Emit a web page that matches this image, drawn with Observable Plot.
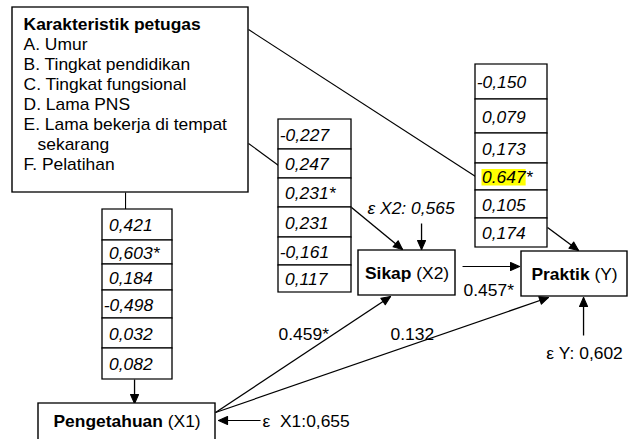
<!DOCTYPE html>
<html>
<head>
<meta charset="utf-8">
<script src="https://cdn.jsdelivr.net/npm/d3@7"></script>
<script src="https://cdn.jsdelivr.net/npm/@observablehq/plot@0.6"></script>
<style>
  html, body { margin: 0; padding: 0; background: #fff; overflow: hidden; }
  #chart svg { display: block; }
</style>
</head>
<body>
<div id="chart"></div>
<script>
// ---------------- data ----------------
const characteristicsTitle = "Karakteristik petugas";
const characteristics = ["A. Umur", "B. Tingkat pendidikan", "C. Tingkat fungsional", "D. Lama PNS", "E. Lama bekerja di tempat", "sekarang", "F. Pelatihan"];
const coefToX1 = ["0,421", "0,603*", "0,184", "-0,498", "0,032", "0,082"];
const coefToX2 = ["-0,227", "0,247", "0,231*", "0,231", "-0,161", "0,117"];
const coefToY  = ["-0,150", "0,079", "0,173", "0.647*", "0,105", "0,174"];
const highlightedCoef = "0.647*";
const nodeIds   = ["X1", "X2", "Y"];
const nodeNames = ["Pengetahuan", "Sikap", "Praktik"];
const nodeCodes = ["(X1)", "(X2)", "(Y)"];
const pathFrom  = ["X1", "X1", "X2"];
const pathTo    = ["X2", "Y", "Y"];
const pathCoef  = ["0.459*", "0.132", "0.457*"];
const errorLabels = ["ε  X1:0,655", "ε X2: 0,565", "ε Y: 0,602"];

// ---------------- layout (picture pixel space) ----------------
const W = 633, H = 439, SX = 1.09, FS = 16;
const FONT = "'Liberation Sans', Arial, Helvetica, sans-serif";
const L = {
  charBox: {x1: 12, x2: 248, y1: 7, y2: 192, textX: 23, titleY: 24, lineStep: 20, indent: 14},
  nodes: {
    X1: {x1: 38, x2: 215, y1: 403, y2: 470, ly: 421},
    X2: {x1: 358, x2: 455, y1: 250, y2: 295, ly: 273},
    Y:  {x1: 521, x2: 627, y1: 251, y2: 296, ly: 274}
  },
  tables: {
    X1: {x: [102, 172], rows: [209, 240, 264, 290, 318, 348, 379]},
    X2: {x: [278, 351], rows: [119, 149, 178, 207, 237, 265, 292]},
    Y:  {x: [475, 547], rows: [64, 99, 133, 163, 190, 218, 247]}
  },
  feeds: {            // characteristic box -> coefficient table (plain lines)
    Y:  [[248, 29], [475, 176]],
    X2: [[248, 143], [278, 165]],
    X1: [[125, 192], [125, 209]]
  },
  tableArrows: {      // coefficient table -> node
    X1: [[134, 379], [134, 403]],
    X2: [[351, 207], [402, 249]],
    Y:  [[547, 227], [578, 250]]
  },
  pathArrows: [[[215, 412], [390, 296]], [[215, 412], [548, 297]], [[462, 266], [519, 266]]],
  pathLabels: [[278, 334, "start"], [390, 334, "start"], [463, 290, "start"]],
  errorArrows: [[[260, 420], [218, 420]], [[421, 223], [421, 249]], [[583, 335], [583, 297]]],
  errorLabels: [[262, 421, "start", false], [367, 208, "start", true], [584, 353, "middle", false]]
};

// ---------------- derived tables ----------------
const boxes = [
  {...L.charBox},
  ...nodeIds.map(id => ({...L.nodes[id]}))
];
const tableData = [["X1", coefToX1], ["X2", coefToX2], ["Y", coefToY]];
const cells = tableData.flatMap(([id, vals]) => vals.map((v, i) => {
  const t = L.tables[id];
  return {id, v, x1: t.x[0], x2: t.x[1], y1: t.rows[i], y2: t.rows[i + 1],
          tx: t.x[0] + 6.5 - (v.startsWith("-") ? 5.3 : 0), ty: (t.rows[i] + t.rows[i + 1]) / 2 + 1};
}));

const canvas = document.createElement("canvas").getContext("2d");
canvas.font = `italic ${FS}px ${FONT}`;
const hl = cells.filter(c => c.v === highlightedCoef).map(c => {
  const w = canvas.measureText(c.v.replace("*", "")).width * SX;
  return {x1: c.tx, x2: c.tx + w + 0.5, y1: c.ty - 8.5, y2: c.ty + 8};
});

const charLines = characteristics.map((t, i) => ({
  t, x: L.charBox.textX + (/^[A-Z]\.\s/.test(t) ? 0 : L.charBox.indent),
  y: L.charBox.titleY + L.charBox.lineStep * (i + 1)
}));

const nodes = nodeIds.map((id, i) => ({
  id, label: nodeNames[i] + " " + nodeCodes[i],
  x: (L.nodes[id].x1 + L.nodes[id].x2) / 2, y: L.nodes[id].ly
}));

const toSeg = ([[x1, y1], [x2, y2]]) => ({x1, y1, x2, y2});
const plainLines = Object.values(L.feeds).map(toSeg);
const arrows = [
  ...Object.values(L.tableArrows).map(toSeg),
  ...L.pathArrows.map(toSeg),
  ...L.errorArrows.map(toSeg)
];
const heads = arrows.flatMap((a, k) => {
  const dx = a.x2 - a.x1, dy = a.y2 - a.y1, len = Math.hypot(dx, dy);
  const ux = dx / len, uy = dy / len, hl = 9, hw = 4;
  const bx = a.x2 - ux * hl, by = a.y2 - uy * hl;
  return [
    {k, x: a.x2, y: a.y2},
    {k, x: bx - uy * hw, y: by + ux * hw},
    {k, x: bx + uy * hw, y: by - ux * hw},
    {k, x: a.x2, y: a.y2}
  ];
});

const pathLabelData = pathCoef.map((t, i) => ({t, from: pathFrom[i], to: pathTo[i], x: L.pathLabels[i][0], y: L.pathLabels[i][1], a: L.pathLabels[i][2]}));
const errData = errorLabels.map((t, i) => ({t, node: nodeIds[i], x: L.errorLabels[i][0], y: L.errorLabels[i][1], a: L.errorLabels[i][2], it: L.errorLabels[i][3]}));

// ---------------- plot ----------------
const textMarks = (data, opts) => d3.groups(data, d => d.a).map(([a, g]) =>
  Plot.text(g, {x: "x", y: "y", text: "t", textAnchor: a, fontSize: FS, fill: "black", ...opts}));

const plot = Plot.plot({
  width: W / SX, height: H, margin: 0,
  x: {domain: [0, W], range: [0, W / SX], axis: null},
  y: {domain: [0, H], range: [0, H], axis: null},
  style: {fontFamily: FONT, background: "white", color: "black", overflow: "hidden"},
  marks: [
    Plot.link(plainLines, {x1: "x1", y1: "y1", x2: "x2", y2: "y2", stroke: "black", strokeWidth: 1}),
    Plot.link(arrows, {x1: "x1", y1: "y1", x2: "x2", y2: "y2", stroke: "black", strokeWidth: 1.2}),
    Plot.line(heads, {x: "x", y: "y", z: "k", fill: "black", stroke: "black", strokeWidth: 1, curve: "linear"}),
    Plot.rect(boxes, {x1: "x1", x2: "x2", y1: "y1", y2: "y2", fill: "white", stroke: "black", strokeWidth: 1.3}),
    Plot.rect(cells, {x1: "x1", x2: "x2", y1: "y1", y2: "y2", fill: "white", stroke: "black", strokeWidth: 1.2}),
    Plot.rect(hl, {x1: "x1", x2: "x2", y1: "y1", y2: "y2", fill: "#ffff00"}),
    Plot.text([characteristicsTitle], {x: L.charBox.textX, y: L.charBox.titleY, text: d => d, textAnchor: "start", fontWeight: "bold", fontSize: FS, fill: "black"}),
    Plot.text(charLines, {x: "x", y: "y", text: "t", textAnchor: "start", fontSize: FS, fill: "black"}),
    Plot.text(cells, {x: "tx", y: "ty", text: "v", textAnchor: "start", fontSize: FS, fontStyle: "italic", fill: "black"}),
    Plot.text(nodes, {x: "x", y: "y", text: "label", textAnchor: "middle", fontSize: FS, fill: "black"}),
    ...textMarks(pathLabelData, {}),
    ...textMarks(errData.filter(d => !d.it), {}),
    ...textMarks(errData.filter(d => d.it), {fontStyle: "italic"})
  ]
});

// bold node names, regular codes
d3.select(plot).selectAll("text").each(function () {
  const n = nodes.find(nd => nd.label === this.textContent);
  if (!n) return;
  const i = nodeIds.indexOf(n.id);
  const sel = d3.select(this);
  sel.text(null);
  sel.append("tspan").attr("font-weight", "bold").text(nodeNames[i]);
  sel.append("tspan").attr("font-weight", "normal").text(" " + nodeCodes[i]);
});

// stretch horizontally to the picture's aspect
plot.setAttribute("width", W);
plot.setAttribute("height", H);
plot.setAttribute("preserveAspectRatio", "none");
plot.style.width = W + "px";
plot.style.height = H + "px";
plot.style.maxWidth = "none";
document.getElementById("chart").appendChild(plot);
</script>
</body>
</html>
